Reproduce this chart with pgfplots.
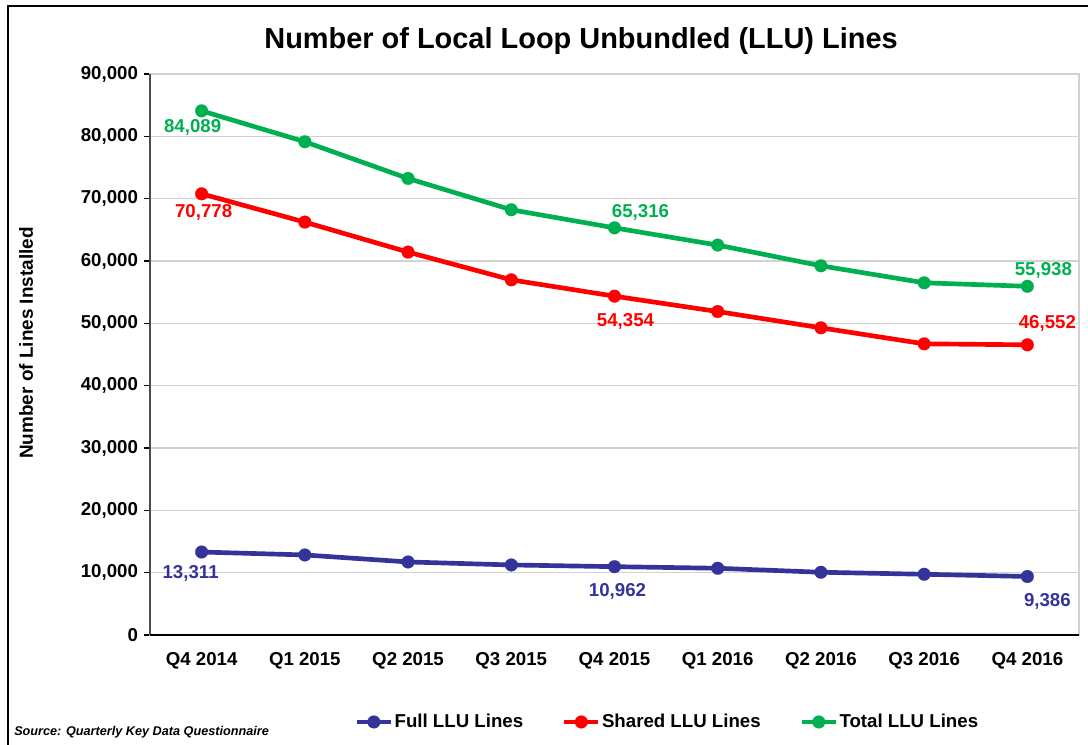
\documentclass[border=0pt]{standalone}
\usepackage{pgfplots}
\pgfplotsset{compat=1.18}
\usepackage{fontspec}
\setmainfont{Liberation Sans}
\definecolor{cblue}{RGB}{51,51,153}
\definecolor{cred}{RGB}{255,0,0}
\definecolor{cgreen}{RGB}{0,176,80}
\definecolor{gridc}{RGB}{210,210,210}
\newcommand{\lblfont}{\fontsize{14}{16}\selectfont\bfseries}
\begin{document}
\begin{tikzpicture}[x=0.75pt,y=0.75pt]
\useasboundingbox (0,0) rectangle (1088,745);
\draw[line width=1.5pt,black] (8,0) -- (8,739) -- (1088,739);
\node[anchor=base,font=\fontsize{21.7}{25}\selectfont\bfseries] at (581,696) {Number of Local Loop Unbundled (LLU) Lines};
\node[rotate=90,font=\fontsize{14.2}{16}\selectfont\bfseries] at (26,402) {Number of Lines Installed};
\node[anchor=base west,font=\fontsize{9.5}{11}\selectfont\bfseries\itshape,inner sep=0pt] at (14,9) {Source: Quarterly Key Data Questionnaire};
\begin{axis}[
  at={(112.5pt,82.5pt)}, anchor=south west,
  scale only axis, width=696.75pt, height=420.75pt,
  xmin=-0.5, xmax=8.5, ymin=0, ymax=90000,
  xtick={0,...,8},
  xticklabels={Q4 2014,Q1 2015,Q2 2015,Q3 2015,Q4 2015,Q1 2016,Q2 2016,Q3 2016,Q4 2016},
  x tick style={draw=none},
  xtick pos=bottom, ytick pos=left,
  extra x ticks={-0.5,0.5,...,8.5},
  extra x tick labels={},
  extra x tick style={grid=none, tick align=outside, major tick length=5pt, tick style={draw=black, line width=0.8pt}},
  ytick={0,10000,...,90000},
  scaled y ticks=false,
  y tick style={draw=black, line width=0.8pt},
  tick align=outside, major tick length=4.5pt,
  ymajorgrids, grid style={gridc, line width=0.8pt},
  axis line style={draw=gridc, line width=0.8pt},
  /pgf/number format/.cd, fixed, 1000 sep={,}, assume math mode=true,
  /pgfplots/.cd,
  ticklabel style={font=\lblfont},
  xticklabel style={yshift=-5pt},
  yticklabel style={xshift=-1pt},
  legend columns=3,
  legend style={at={(0.5565,-0.155)}, anchor=center, draw=none, fill=none,
    font=\lblfont, /tikz/every even column/.append style={column sep=28pt},
    nodes={inner sep=1pt}},
  legend image code/.code={\draw[mark repeat=2,mark phase=2] plot coordinates {(0cm,0cm)(0.45cm,0cm)(0.9cm,0cm)};},
  clip=false,
]
\addplot[cblue, line width=3.5pt, mark=*, mark size=4.8pt, mark options={solid, line width=0.1pt}] coordinates {
(0,13311) (1,12840) (2,11717) (3,11236) (4,10962) (5,10706) (6,10064) (7,9743) (8,9386)};
\addlegendentry{Full LLU Lines}
\addplot[cred, line width=3.5pt, mark=*, mark size=4.8pt, mark options={solid, line width=0.1pt}] coordinates {
(0,70778) (1,66240) (2,61430) (3,56980) (4,54354) (5,51890) (6,49280) (7,46710) (8,46552)};
\addlegendentry{Shared LLU Lines}
\addplot[cgreen, line width=3.5pt, mark=*, mark size=4.8pt, mark options={solid, line width=0.1pt}] coordinates {
(0,84089) (1,79130) (2,73240) (3,68220) (4,65316) (5,62550) (6,59230) (7,56500) (8,55938)};
\addlegendentry{Total LLU Lines}
% data labels
\pgfplotsset{lbl/.style n args={3}{forget plot, draw=none, mark=none, nodes near coords, point meta=explicit symbolic,
  every node near coord/.append style={anchor=center, font=\lblfont, text=#1, xshift=#2*0.75pt, yshift=#3*0.75pt}}}
\addplot[lbl={cgreen}{-9}{-17}] coordinates {(0,84089) [84,089]};
\addplot[lbl={cred}{2}{-19}] coordinates {(0,70778) [70,778]};
\addplot[lbl={cblue}{-11}{-21}] coordinates {(0,13311) [13,311]};
\addplot[lbl={cgreen}{26}{15}] coordinates {(4,65316) [65,316]};
\addplot[lbl={cred}{11}{-25}] coordinates {(4,54354) [54,354]};
\addplot[lbl={cblue}{3}{-25}] coordinates {(4,10962) [10,962]};
\addplot[lbl={cgreen}{16}{16}] coordinates {(8,55938) [55,938]};
\addplot[lbl={cred}{20}{21}] coordinates {(8,46552) [46,552]};
\addplot[lbl={cblue}{20}{-25}] coordinates {(8,9386) [9,386]};
\draw[black!70, line width=0.8pt] (rel axis cs:0,0) -- (rel axis cs:0,1);
\draw[black, line width=0.8pt] (rel axis cs:0,0) -- (rel axis cs:1,0);
\end{axis}
\end{tikzpicture}
\end{document}
